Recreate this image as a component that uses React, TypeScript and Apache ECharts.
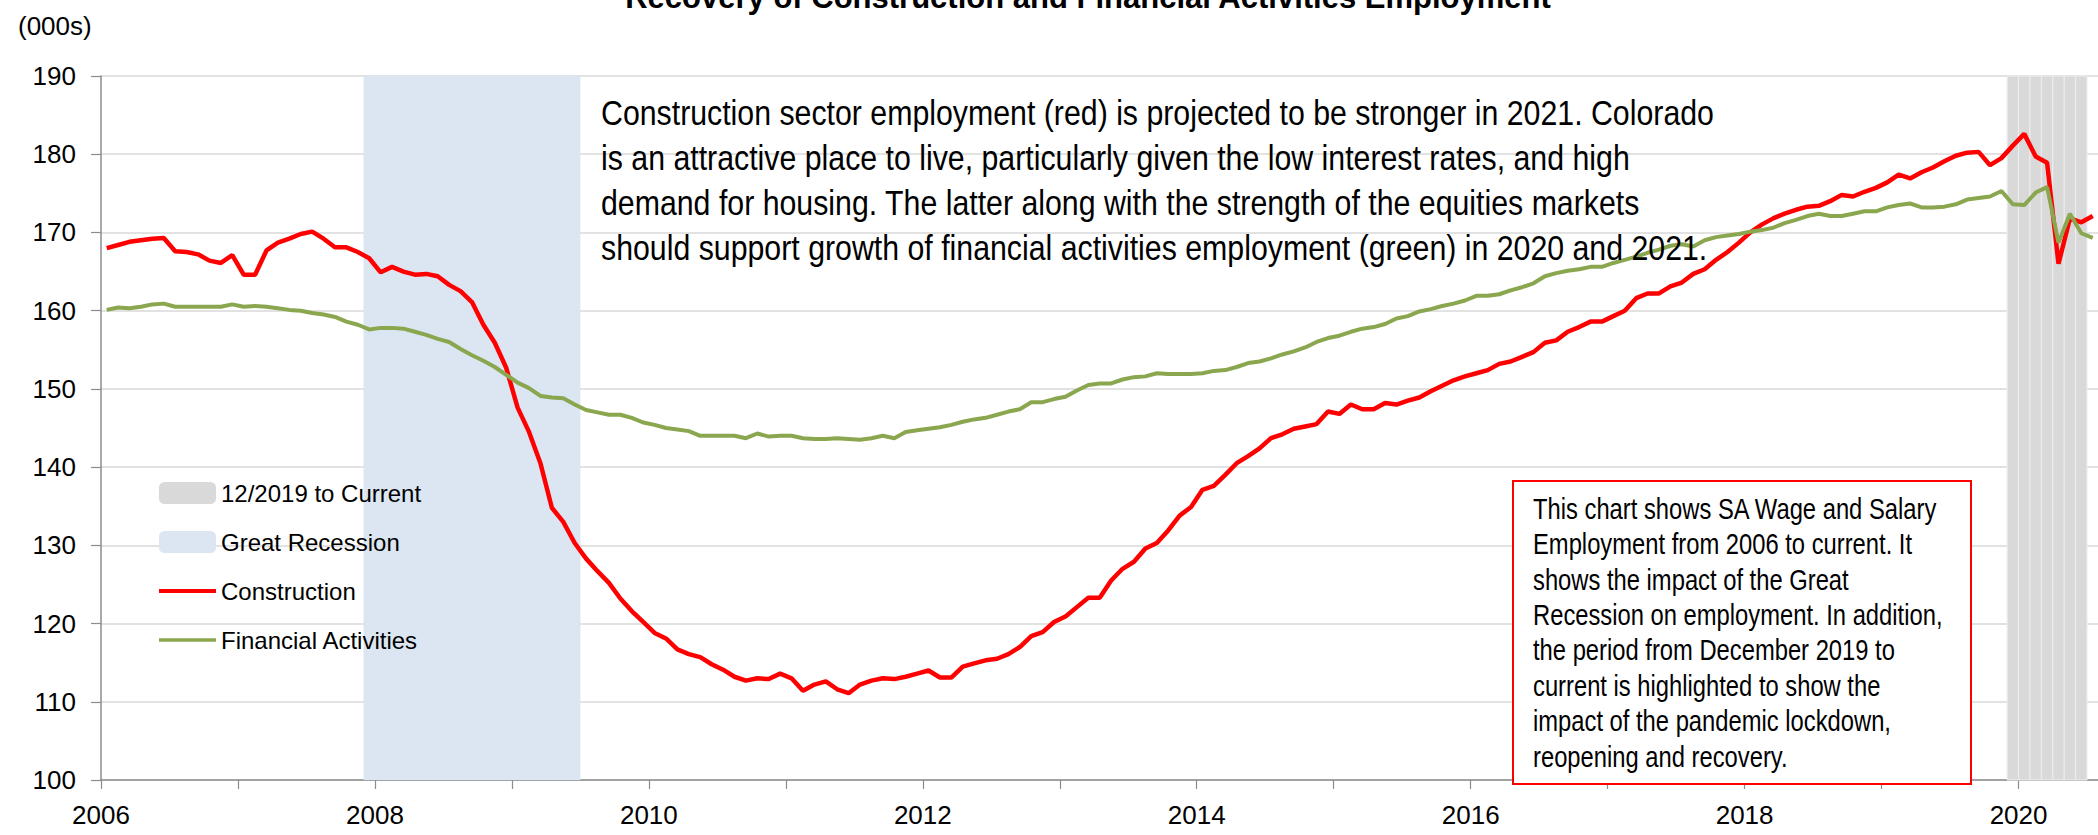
import React, { useEffect, useRef } from "react";
import * as echarts from "echarts";

// Monthly, seasonally adjusted employment (000s), Jan 2006 .. Jul 2020
const START_YEAR = 2006;
const construction = [
  168.0, 168.4, 168.8, 169.0, 169.2, 169.3, 167.6, 167.5, 167.2, 166.4, 166.1, 167.1,
  164.6, 164.6, 167.7, 168.7, 169.2, 169.8, 170.1, 169.2, 168.1, 168.1, 167.5, 166.7,
  164.9, 165.6, 165.0, 164.6, 164.7, 164.4, 163.3, 162.5, 161.1, 158.2, 155.9, 152.7,
  147.6, 144.5, 140.5, 134.8, 133.0, 130.3, 128.3, 126.7, 125.2, 123.2, 121.6, 120.2,
  118.8, 118.1, 116.7, 116.1, 115.7, 114.8, 114.1, 113.2, 112.7, 113.0, 112.9, 113.6,
  113.0, 111.4, 112.2, 112.6, 111.6, 111.1, 112.2, 112.7, 113.0, 112.9, 113.2, 113.6,
  114.0, 113.1, 113.1, 114.5, 114.9, 115.3, 115.5, 116.1, 117.0, 118.4, 118.9, 120.2,
  120.9, 122.1, 123.3, 123.3, 125.5, 127.0, 127.9, 129.6, 130.3, 131.9, 133.8, 134.9,
  137.1, 137.6, 139.0, 140.5, 141.4, 142.4, 143.7, 144.2, 144.9, 145.2, 145.5, 147.1,
  146.8, 148.0, 147.4, 147.4, 148.2, 148.0, 148.5, 148.9, 149.7, 150.4, 151.1, 151.6,
  152.0, 152.4, 153.2, 153.5, 154.1, 154.7, 155.9, 156.2, 157.3, 157.9, 158.6, 158.6,
  159.3, 160.0, 161.6, 162.2, 162.2, 163.1, 163.6, 164.7, 165.3, 166.5, 167.5, 168.7,
  170.0, 171.0, 171.8, 172.4, 172.9, 173.3, 173.4, 174.0, 174.8, 174.6, 175.2, 175.7,
  176.4, 177.4, 176.9, 177.7, 178.3, 179.1, 179.8, 180.2, 180.3, 178.6, 179.5, 181.1,
  182.6, 179.7, 178.9, 166.0, 171.8, 171.3, 172.1,
];
const financial = [
  160.1, 160.4, 160.3, 160.5, 160.8, 160.9, 160.5, 160.5, 160.5, 160.5, 160.5, 160.8,
  160.5, 160.6, 160.5, 160.3, 160.1, 160.0, 159.7, 159.5, 159.2, 158.6, 158.2, 157.6,
  157.8, 157.8, 157.7, 157.3, 156.9, 156.4, 156.0, 155.1, 154.3, 153.6, 152.8, 151.8,
  150.8, 150.1, 149.1, 148.9, 148.8, 148.0, 147.3, 147.0, 146.7, 146.7, 146.3, 145.7,
  145.4, 145.0, 144.8, 144.6, 144.0, 144.0, 144.0, 144.0, 143.7, 144.3, 143.9, 144.0,
  144.0, 143.7, 143.6, 143.6, 143.7, 143.6, 143.5, 143.7, 144.0, 143.7, 144.5, 144.7,
  144.9, 145.1, 145.4, 145.8, 146.1, 146.3, 146.7, 147.1, 147.4, 148.3, 148.3, 148.7,
  149.0, 149.8, 150.5, 150.7, 150.7, 151.2, 151.5, 151.6, 152.0, 151.9, 151.9, 151.9,
  152.0, 152.3, 152.4, 152.8, 153.3, 153.5, 153.9, 154.4, 154.8, 155.3, 156.0, 156.5,
  156.8, 157.3, 157.7, 157.9, 158.3, 159.0, 159.3, 159.9, 160.2, 160.6, 160.9, 161.3,
  161.9, 161.9, 162.1, 162.6, 163.0, 163.5, 164.4, 164.8, 165.1, 165.3, 165.6, 165.6,
  166.1, 166.5, 166.9, 167.4, 167.8, 168.3, 168.5, 168.2, 169.0, 169.4, 169.6, 169.8,
  170.1, 170.3, 170.6, 171.2, 171.6, 172.1, 172.4, 172.1, 172.1, 172.4, 172.7, 172.7,
  173.2, 173.5, 173.7, 173.2, 173.2, 173.3, 173.6, 174.2, 174.4, 174.6, 175.3, 173.6,
  173.5, 175.1, 175.8, 168.7, 172.4, 169.9, 169.3,
];
const pandemicMonths = ["2019-12", "2020-01", "2020-02", "2020-03", "2020-04", "2020-05", "2020-06"];
const greatRecession = ["2007-12", "2009-06"];
const xLabelYears = [2006, 2008, 2010, 2012, 2014, 2016, 2018, 2020];
const Y_MIN = 100;
const Y_MAX = 190;
const Y_STEP = 10;

const TITLE = "Recovery of Construction and Financial Activities Employment";
const UNIT = "(000s)";
const NOTE_LINES = [
  "Construction sector employment (red) is projected to be stronger in 2021. Colorado",
  "is an attractive place to live, particularly given the low interest rates, and high",
  "demand for housing. The latter along with the strength of the equities markets",
  "should support growth of financial activities employment (green) in 2020 and 2021.",
];
const BOX_LINES = [
  "This chart shows SA Wage and Salary",
  "Employment from 2006 to current. It",
  "shows the impact of the Great",
  "Recession on employment. In addition,",
  "the period from December 2019 to",
  "current is highlighted to show the",
  "impact of the pandemic lockdown,",
  "reopening and recovery.",
];

const FONT = "'Liberation Sans', Arial, sans-serif";
const RED = "#ff0000";
const GREEN = "#8aa64f";

const monthStart = (ym: string) => {
  const [y, m] = ym.split("-").map(Number);
  return y + (m - 1) / 12;
};
const toPoints = (vals: number[]) => vals.map((v, i) => [START_YEAR + (i + 0.5) / 12, v]);

// legend icon: a horizontal stroke inside a 57x22 box
const lineIcon = (h: number) =>
  `path://M0,0M57,22M0,${11 - h / 2}L57,${11 - h / 2}L57,${11 + h / 2}L0,${11 + h / 2}Z`;

export default function App() {
  const ref = useRef<HTMLDivElement>(null);
  useEffect(() => {
    if (!ref.current) return;
    const chart = echarts.init(ref.current, null, { renderer: "svg" });
    const pandemicAreas = pandemicMonths.map((m) => [
      { xAxis: monthStart(m) },
      { xAxis: monthStart(m) + 1 / 12 },
    ]);
    const recessionArea = [
      [{ xAxis: monthStart(greatRecession[0]) }, { xAxis: monthStart(greatRecession[1]) + 1 / 12 }],
    ];
    chart.setOption({
      animation: false,
      textStyle: { fontFamily: FONT },
      grid: { left: 101, right: 0, top: 76, bottom: 55, containLabel: false },
      legend: {
        orient: "vertical",
        left: 154,
        top: 476,
        itemWidth: 57,
        itemHeight: 22,
        itemGap: 25,
        selectedMode: false,
        textStyle: { fontSize: 24, fontFamily: FONT, color: "#000" },
        data: [
          { name: "12/2019 to Current", icon: "roundRect" },
          { name: "Great Recession", icon: "roundRect" },
          { name: "Construction", icon: lineIcon(4) },
          { name: "Financial Activities", icon: lineIcon(3.5) },
        ],
      },
      xAxis: {
        type: "value",
        min: 2006,
        max: 2020.58,
        interval: 1,
        axisLine: { show: true, lineStyle: { color: "#8c8c8c", width: 1.5 } },
        axisTick: { show: true, length: 9, lineStyle: { color: "#8c8c8c", width: 1.2 } },
        splitLine: { show: false },
        axisLabel: {
          fontSize: 26,
          fontFamily: FONT,
          color: "#000",
          margin: 22,
          showMaxLabel: false,
          formatter: (v: number) =>
            xLabelYears.includes(Math.round(v)) && Math.abs(v - Math.round(v)) < 1e-6 ? String(Math.round(v)) : "",
        },
      },
      yAxis: {
        type: "value",
        min: Y_MIN,
        max: Y_MAX,
        interval: Y_STEP,
        axisLine: { show: true, lineStyle: { color: "#8c8c8c", width: 1.5 } },
        axisTick: { show: true, length: 10, lineStyle: { color: "#8c8c8c", width: 1.2 } },
        splitLine: { show: true, lineStyle: { color: "#d9d9d9", width: 1.5 } },
        axisLabel: { fontSize: 26, fontFamily: FONT, color: "#000", margin: 25 },
      },
      series: [
        {
          name: "12/2019 to Current",
          type: "bar",
          data: [],
          itemStyle: { color: "#d9d9d9" },
          markArea: {
            silent: true,
            label: { show: false },
            itemStyle: { color: "#d9d9d9", borderColor: "#eeeeee", borderWidth: 1 },
            data: pandemicAreas,
          },
        },
        {
          name: "Great Recession",
          type: "bar",
          data: [],
          itemStyle: { color: "#dce6f2" },
          markArea: {
            silent: true,
            label: { show: false },
            itemStyle: { color: "#dce6f2" },
            data: recessionArea,
          },
        },
        {
          name: "Construction",
          type: "line",
          data: toPoints(construction),
          symbol: "none",
          showSymbol: false,
          lineStyle: { color: RED, width: 4.5 },
          itemStyle: { color: RED },
          z: 3,
        },
        {
          name: "Financial Activities",
          type: "line",
          data: toPoints(financial),
          symbol: "none",
          showSymbol: false,
          lineStyle: { color: GREEN, width: 4 },
          itemStyle: { color: GREEN },
          z: 4,
        },
      ],
      graphic: [
        {
          type: "text",
          x: 1088,
          y: -3,
          z: 100,
          style: { text: TITLE, fontSize: 31, fontWeight: "bold", fontFamily: FONT, fill: "#000", textAlign: "center", textVerticalAlign: "middle" },
        },
        {
          type: "text",
          x: 18,
          y: 26,
          z: 100,
          style: { text: UNIT, fontSize: 26, fontFamily: FONT, fill: "#000", textAlign: "left", textVerticalAlign: "middle" },
        },
        {
          type: "text",
          x: 601,
          y: 90.5,
          scaleX: 0.866,
          z: 100,
          style: { text: NOTE_LINES.join("\n"), fontSize: 35, lineHeight: 45, fontFamily: FONT, fill: "#000", textAlign: "left", textVerticalAlign: "top" },
        },
        {
          type: "rect",
          z: 100,
          shape: { x: 1513, y: 481, width: 458, height: 303 },
          style: { fill: "#ffffff", stroke: "#ff0000", lineWidth: 2 },
        },
        {
          type: "text",
          z: 101,
          x: 1533,
          y: 491.3,
          scaleX: 0.82,
          style: { text: BOX_LINES.join("\n"), fontSize: 29, lineHeight: 35.4, fontFamily: FONT, fill: "#000", textAlign: "left", textVerticalAlign: "top" },
        },
      ],
    });
    return () => chart.dispose();
  }, []);
  return <div ref={ref} style={{ position: "absolute", left: 0, top: 0, width: 2098, height: 835 }} />;
}
